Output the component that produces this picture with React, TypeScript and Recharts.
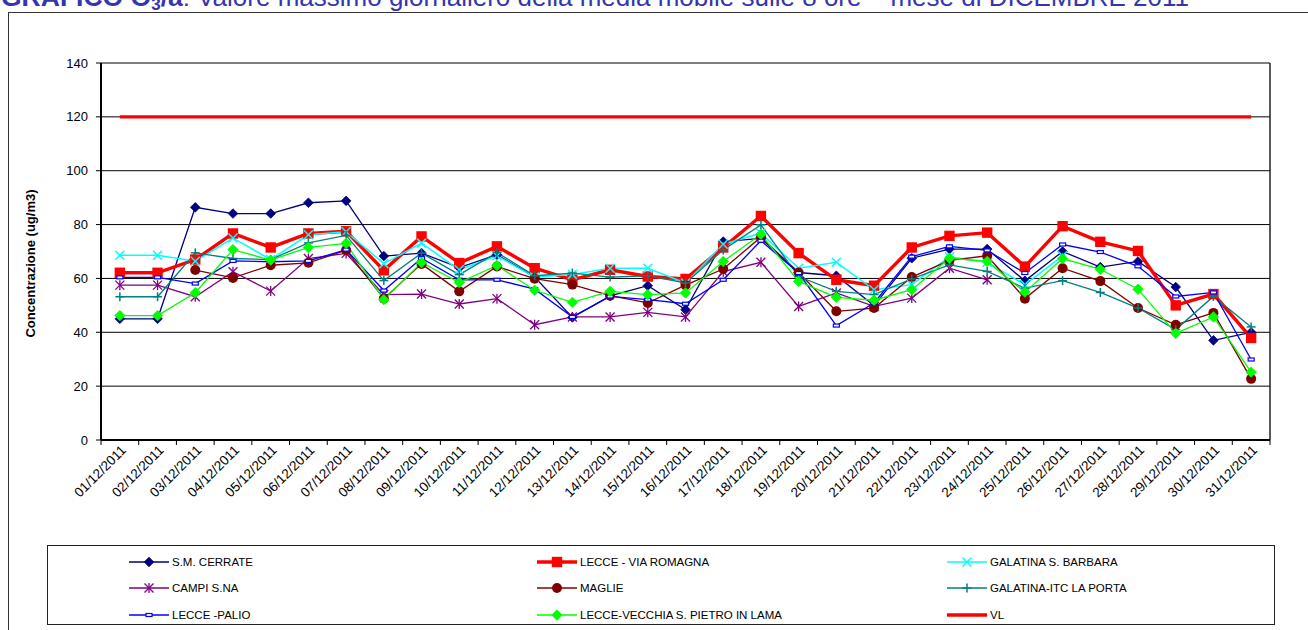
import React from 'react';
import { LineChart, Line, XAxis, YAxis, CartesianGrid, ReferenceLine, Label } from 'recharts';

// ---------- data ----------
const dayLabels = [
  '01/12/2011', '02/12/2011', '03/12/2011', '04/12/2011', '05/12/2011', '06/12/2011', '07/12/2011',
  '08/12/2011', '09/12/2011', '10/12/2011', '11/12/2011', '12/12/2011', '13/12/2011', '14/12/2011',
  '15/12/2011', '16/12/2011', '17/12/2011', '18/12/2011', '19/12/2011', '20/12/2011', '21/12/2011',
  '22/12/2011', '23/12/2011', '24/12/2011', '25/12/2011', '26/12/2011', '27/12/2011', '28/12/2011',
  '29/12/2011', '30/12/2011', '31/12/2011',
];

const smCerrate = [45, 45, 86.4, 84.1, 84.1, 88.1, 88.8, 68.3, 69.4, 64, 68.8, 60.5, 45.5, 53.5, 57.3, 48.4, 73.7, 74.9, 62.2, 61, 49.9, 67.5, 70.9, 70.9, 59.1, 70, 64.2, 66.3, 56.8, 37, 40];
const lecceViaRomagna = [62.1, 62.1, 67, 76.7, 71.5, 76.7, 77.5, 63, 75.6, 65.7, 71.9, 63.8, 59.5, 63.2, 60.7, 59.8, 71.5, 83.2, 69.4, 59.5, 57.3, 71.5, 75.8, 77, 64.4, 79.4, 73.6, 70.2, 50, 54.2, 37.9];
const galatinaSBarbara = [68.6, 68.6, 66.4, 75, 67, 76.2, 77.3, 65.5, 73.1, 63.2, 68.4, 60.5, 61.5, 63.8, 63.8, 58.3, 72.7, 76.8, 63.8, 66, 55.8, 57.7, 68, 66, 57.7, 68.4, null, null, null, null, null];
const campiSalentina = [57.5, 57.5, 53.2, 62.5, 55.3, 67.4, 69.3, 54, 54.2, 50.5, 52.5, 42.8, 45.7, 45.7, 47.4, 45.7, 62.5, 66, 49.6, 54.6, 49.6, 52.7, 63.8, 59.5, null, null, null, null, null, null, null];
const maglie = [null, null, 63.1, 60.2, 64.9, 65.8, 70.5, 52.5, 65.4, 55.2, 64.4, 59.9, 57.7, 53.6, 50.9, 57.5, 63.5, 75.3, 62.2, 47.8, 49, 60.5, 66.7, 68.4, 52.5, 63.8, 59, 49, 42.8, 47.2, 22.7];
const galatinaItc = [53.2, 53.2, 69.5, 67.4, 67, 73.2, 76, 59.2, 69.4, 61.4, 69.6, 61, 62, 60.5, 61, 58.3, 70.6, 79.9, 60.7, 55.2, 54, 59.8, 65, 62.6, 56.4, 59.2, 54.8, 49, 41, 53.3, 42];
const leccePalio = [60.4, 60.4, 58.1, 66.5, 66.2, 66.5, 70.7, 55.5, 67.5, 59.5, 59.5, 56, 45.7, 53.3, 52.1, 50.6, 59.5, 74, 62, 42.5, 50.9, 68.1, 71.9, 70.4, 62, 72.6, 69.8, 64.5, 53.3, 54.8, 29.9];
const lecceVecchia = [46.2, 46.2, 54.7, 70.7, 66.8, 71.5, 73, 52.1, 65.9, 58.5, 64.8, 55.6, 51.1, 55.2, 54, 54.6, 66.3, 76.4, 58.9, 53, 51.9, 55.8, 67.5, 66.3, 54.9, 67.4, 63.4, 56, 39.6, 45.7, 25.2];
const valoreLimite = [120, 120, 120, 120, 120, 120, 120, 120, 120, 120, 120, 120, 120, 120, 120, 120, 120, 120, 120, 120, 120, 120, 120, 120, 120, 120, 120, 120, 120, 120, 120];

const yTicks = [0, 20, 40, 60, 80, 100, 120, 140];

// ---------- styles ----------
const FONT = "'Liberation Sans', Arial, sans-serif";

type Marker = 'diamond' | 'square' | 'x' | 'asterisk' | 'circle' | 'plus' | 'dash' | 'none';

const series: { key: string; name: string; values: (number | null)[]; color: string; width: number; marker: Marker; size: number }[] = [
  { key: 'smCerrate', name: 'S.M. CERRATE', values: smCerrate, color: '#000080', width: 1.3, marker: 'diamond', size: 4.8 },
  { key: 'lecceViaRomagna', name: 'LECCE - VIA ROMAGNA', values: lecceViaRomagna, color: '#FF0000', width: 3.4, marker: 'square', size: 5.2 },
  { key: 'galatinaSBarbara', name: 'GALATINA S. BARBARA', values: galatinaSBarbara, color: '#00FFFF', width: 1.5, marker: 'x', size: 4.5 },
  { key: 'campiSalentina', name: 'CAMPI S.NA', values: campiSalentina, color: '#800080', width: 1.3, marker: 'asterisk', size: 4.5 },
  { key: 'maglie', name: 'MAGLIE', values: maglie, color: '#800000', width: 1.3, marker: 'circle', size: 5 },
  { key: 'galatinaItc', name: 'GALATINA-ITC LA PORTA', values: galatinaItc, color: '#008080', width: 1.3, marker: 'plus', size: 4.5 },
  { key: 'leccePalio', name: 'LECCE -PALIO', values: leccePalio, color: '#0000FF', width: 1.3, marker: 'dash', size: 3 },
  { key: 'lecceVecchia', name: 'LECCE-VECCHIA S. PIETRO IN LAMA', values: lecceVecchia, color: '#00FF00', width: 1.3, marker: 'diamond', size: 5.2 },
  { key: 'vl', name: 'VL', values: valoreLimite, color: '#FF0000', width: 3.4, marker: 'none', size: 0 },
];

const data = dayLabels.map((label, i) => {
  const row: Record<string, number | string | null> = { day: i + 1, label };
  series.forEach((s) => { row[s.key] = s.values[i]; });
  return row;
});

const xTicks: number[] = [];
dayLabels.forEach((_, i) => { xTicks.push(i + 0.5, i + 1); });
xTicks.push(dayLabels.length + 0.5);

function renderMarker(type: Marker, color: string, r: number, cx: number, cy: number, key: string) {
  if (type === 'none' || cx == null || cy == null || isNaN(cx) || isNaN(cy)) return <g key={key} />;
  switch (type) {
    case 'diamond':
      return <polygon key={key} points={`${cx},${cy - r} ${cx + r},${cy} ${cx},${cy + r} ${cx - r},${cy}`} fill={color} stroke={color} strokeWidth={0.8} />;
    case 'square':
      return <rect key={key} x={cx - r} y={cy - r} width={2 * r} height={2 * r} fill={color} />;
    case 'circle':
      return <circle key={key} cx={cx} cy={cy} r={r} fill={color} />;
    case 'x':
      return (
        <g key={key} stroke={color} strokeWidth={1.5}>
          <line x1={cx - r} y1={cy - r} x2={cx + r} y2={cy + r} />
          <line x1={cx - r} y1={cy + r} x2={cx + r} y2={cy - r} />
        </g>
      );
    case 'asterisk':
      return (
        <g key={key} stroke={color} strokeWidth={1.3}>
          <line x1={cx - r} y1={cy - r} x2={cx + r} y2={cy + r} />
          <line x1={cx - r} y1={cy + r} x2={cx + r} y2={cy - r} />
          <line x1={cx} y1={cy - r - 0.5} x2={cx} y2={cy + r + 0.5} />
        </g>
      );
    case 'plus':
      return (
        <g key={key} stroke={color} strokeWidth={1.5}>
          <line x1={cx - r} y1={cy} x2={cx + r} y2={cy} />
          <line x1={cx} y1={cy - r} x2={cx} y2={cy + r} />
        </g>
      );
    case 'dash':
      return <rect key={key} x={cx - r} y={cy - r / 2} width={2 * r} height={r} fill="#fff" stroke={color} strokeWidth={1.2} />;
    default:
      return <g key={key} />;
  }
}

const XTick = (props: any) => {
  const { x, y, payload } = props;
  const v = payload.value as number;
  if (Number.isInteger(v)) {
    const label = dayLabels[v - 1];
    const tx = x + 7;
    const ty = y + 11;
    return (
      <text x={tx} y={ty} transform={`rotate(-45, ${tx}, ${ty})`} textAnchor="end" fontSize={13.5} fontFamily={FONT} fill="#000">
        {label}
      </text>
    );
  }
  return <line x1={x} x2={x} y1={y} y2={y + 5} stroke="#000" strokeWidth={1} />;
};

const YLabel = (props: any) => {
  const vb = props.viewBox || { x: 0, y: 0, height: 0 };
  const tx = vb.x + 35;
  const ty = vb.y + vb.height / 2 + 12;
  return (
    <text x={tx} y={ty} transform={`rotate(-90, ${tx}, ${ty})`} textAnchor="middle" fontSize={13} fontWeight="bold" fontFamily={FONT} fill="#000">
      Concentrazione (ug/m3)
    </text>
  );
};

function LegendItem({ s }: { s: (typeof series)[number] }) {
  return (
    <div style={{ display: 'flex', alignItems: 'center', height: 14 }}>
      <svg width={40} height={14} style={{ display: 'block' }}>
        <line x1={0} y1={7} x2={40} y2={7} stroke={s.color} strokeWidth={s.width} />
        {renderMarker(s.marker, s.color, s.size, 20, 7, 'm')}
      </svg>
      <span style={{ marginLeft: 3, fontSize: 11.5, fontFamily: FONT, color: '#000', whiteSpace: 'nowrap' }}>{s.name}</span>
    </div>
  );
}

export default function App() {
  const colLeft = [81, 489, 899];
  const rowTop = [9, 35, 62];
  return (
    <div style={{ position: 'absolute', left: 0, top: 0, width: 1308, height: 630, overflow: 'hidden', background: '#fff' }}>
      {/* title */}
      <svg width={1308} height={14} style={{ position: 'absolute', left: 0, top: 0 }}>
        <text x={1} y={6} fontSize={26} fontFamily={FONT} fill="#3535b0">
          <tspan fontWeight="bold" fontSize={26.5}>GRAFICO O</tspan>
          <tspan fontWeight="bold" fontSize={17} dy={4}>3</tspan>
          <tspan fontWeight="bold" fontSize={26.5} dy={-4}>/a</tspan>
          <tspan>: Valore massimo giornaliero della media mobile sulle 8 ore – mese di DICEMBRE 2011</tspan>
        </text>
      </svg>
      {/* frame */}
      <div style={{ position: 'absolute', left: 8, top: 12, width: 1400, height: 700, borderTop: '1.5px solid #333', borderLeft: '1.5px solid #333' }} />

      <div style={{ position: 'absolute', left: 0, top: 0 }}>
        <LineChart width={1308} height={540} data={data} margin={{ top: 63, right: 38, bottom: 0, left: 0 }}>
          <CartesianGrid vertical={false} stroke="#000" strokeWidth={1} />
          <XAxis
            dataKey="day"
            type="number"
            domain={[0.5, dayLabels.length + 0.5]}
            ticks={xTicks}
            interval={0}
            allowDecimals
            height={100}
            tickSize={0}
            tickMargin={0}
            tickLine={false}
            axisLine={{ stroke: '#000', strokeWidth: 2 }}
            tick={(p: any) => <XTick {...p} />}
          />
          <YAxis
            domain={[0, 140]}
            ticks={yTicks}
            interval={0}
            width={101}
            tickSize={5}
            tickMargin={8}
            tickLine={{ stroke: '#000' }}
            axisLine={{ stroke: '#000', strokeWidth: 2 }}
            tick={{ fill: '#000', fontSize: 13, fontFamily: FONT }}
          >
            <Label content={(p: any) => <YLabel {...p} />} />
          </YAxis>
          <ReferenceLine x={dayLabels.length + 0.5} stroke="#222" strokeWidth={1.5} />
          {series.map((s) => (
            <Line
              key={s.key}
              dataKey={s.key}
              name={s.name}
              stroke={s.color}
              strokeWidth={s.width}
              isAnimationActive={false}
              activeDot={false}
              dot={s.marker === 'none' ? false : (p: any) => renderMarker(s.marker, s.color, s.size, p.cx, p.cy, `${s.key}-${p.index}`)}
            />
          ))}
        </LineChart>
      </div>

      {/* legend */}
      <div style={{ position: 'absolute', left: 47, top: 545, width: 1228, height: 80, border: '1.5px solid #222', boxSizing: 'border-box', background: '#fff' }}>
        {series.map((s, i) => (
          <div key={s.key} style={{ position: 'absolute', left: colLeft[i % 3], top: rowTop[Math.floor(i / 3)] }}>
            <LegendItem s={s} />
          </div>
        ))}
      </div>
    </div>
  );
}
